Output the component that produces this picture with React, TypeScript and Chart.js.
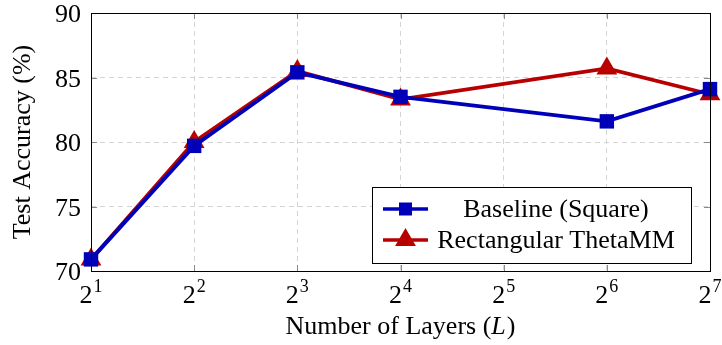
import React, { useEffect, useRef } from "react";
import { Chart, registerables } from "chart.js";
Chart.register(...registerables);

const layers = [2, 4, 8, 16, 64, 128];
const xTicks = [2, 4, 8, 16, 32, 64, 128];
const baseline = [70.9, 79.7, 85.4, 83.5, 81.6, 84.1];
const thetaMM = [70.9, 80.0, 85.5, 83.3, 85.7, 83.7];
const yTicks = [70, 75, 80, 85, 90];
const seriesNames = ["Baseline (Square)", "Rectangular ThetaMM"];
const xTitleParts = ["Number of Layers (", "L", ")"];
const yTitle = "Test Accuracy (%)";

const FONT = "'Liberation Serif', 'Times New Roman', serif";
const BLUE = "rgb(0,0,185)";
const RED = "rgb(185,0,0)";
const FS = 26;

const extrasPlugin = {
  id: "extras",
  afterDraw(chart: any) {
    const { ctx, chartArea: a } = chart;
    const xs = chart.scales.x;
    const ys = chart.scales.y;
    ctx.save();
    const ln = (x1: number, y1: number, x2: number, y2: number) => {
      ctx.beginPath();
      ctx.moveTo(x1, y1);
      ctx.lineTo(x2, y2);
      ctx.stroke();
    };
    // inward tick marks
    ctx.strokeStyle = "#8a8a8a";
    ctx.lineWidth = 1;
    xTicks.forEach((v) => {
      const px = Math.round(xs.getPixelForValue(v)) + 0.5;
      ln(px, a.top, px, a.top + 6);
      ln(px, a.bottom, px, a.bottom - 6);
    });
    yTicks.forEach((v) => {
      const py = Math.round(ys.getPixelForValue(v)) + 0.5;
      ln(a.left, py, a.left + 6, py);
      ln(a.right, py, a.right - 6, py);
    });
    // frame
    ctx.strokeStyle = "#000";
    ctx.strokeRect(Math.round(a.left) + 0.5, Math.round(a.top) + 0.5, Math.round(a.right - a.left), Math.round(a.bottom - a.top));

    const normal = `${FS}px ${FONT}`;
    const italic = `italic ${FS}px ${FONT}`;
    const small = `18px ${FONT}`;
    ctx.fillStyle = "#000";
    ctx.textBaseline = "alphabetic";

    // y tick labels
    ctx.font = normal;
    ctx.textAlign = "right";
    yTicks.forEach((v) => {
      const py = ys.getPixelForValue(v);
      ctx.fillText(String(v), a.left - 10, py + 9);
    });

    // x tick labels: 2^k
    xTicks.forEach((v) => {
      const px = xs.getPixelForValue(v);
      const exp = String(Math.round(Math.log2(v)));
      ctx.font = normal;
      const wb = ctx.measureText("2").width;
      ctx.font = small;
      const we = ctx.measureText(exp).width;
      const x0 = px - (wb + we + 1) / 2;
      ctx.textAlign = "left";
      ctx.font = normal;
      ctx.fillText("2", x0, a.bottom + 32);
      ctx.font = small;
      ctx.fillText(exp, x0 + wb + 1, a.bottom + 21);
    });

    // x title
    ctx.font = normal;
    const w0 = ctx.measureText(xTitleParts[0]).width;
    const w2 = ctx.measureText(xTitleParts[2]).width;
    ctx.font = italic;
    const w1 = ctx.measureText(xTitleParts[1]).width;
    const total = w0 + w1 + w2 + 1;
    let x = (a.left + a.right) / 2 - total / 2;
    const ty = 334;
    ctx.textAlign = "left";
    ctx.font = normal;
    ctx.fillText(xTitleParts[0], x, ty);
    x += w0;
    ctx.font = italic;
    ctx.fillText(xTitleParts[1], x, ty);
    x += w1 + 1;
    ctx.font = normal;
    ctx.fillText(xTitleParts[2], x, ty);

    // y title
    ctx.save();
    ctx.translate(23, (a.top + a.bottom) / 2);
    ctx.rotate(-Math.PI / 2);
    ctx.textAlign = "center";
    ctx.textBaseline = "middle";
    ctx.font = normal;
    ctx.fillText(yTitle, 0, 0);
    ctx.restore();

    // legend
    const lx1 = a.right - 19;
    const ly2 = a.bottom - 8;
    const lx0 = lx1 - 319;
    const ly0 = ly2 - 76;
    ctx.fillStyle = "#fff";
    ctx.fillRect(lx0, ly0, lx1 - lx0, ly2 - ly0);
    ctx.strokeStyle = "#000";
    ctx.lineWidth = 1;
    ctx.strokeRect(Math.round(lx0) + 0.5, Math.round(ly0) + 0.5, Math.round(lx1 - lx0), Math.round(ly2 - ly0));
    chart.data.datasets.forEach((ds: any, i: number) => {
      const ry = ly0 + 22 + i * 31;
      const sx0 = lx0 + 11;
      const sx1 = lx0 + 56;
      const mx = (sx0 + sx1) / 2;
      ctx.strokeStyle = ds.borderColor;
      ctx.lineWidth = 3.5;
      ln(sx0, ry, sx1, ry);
      ctx.fillStyle = ds.pointBackgroundColor;
      ctx.beginPath();
      if (ds.pointStyle === "rect") {
        const s = 6.5;
        ctx.rect(mx - s, ry - s, 2 * s, 2 * s);
      } else {
        const r = 12;
        ctx.moveTo(mx, ry - r);
        ctx.lineTo(mx + r * 0.866, ry + r * 0.5);
        ctx.lineTo(mx - r * 0.866, ry + r * 0.5);
        ctx.closePath();
      }
      ctx.fill();
      ctx.fillStyle = "#000";
      ctx.font = normal;
      ctx.textAlign = "center";
      ctx.textBaseline = "middle";
      ctx.fillText(ds.label, lx0 + 184, ry + 1);
    });
    ctx.restore();
  },
};

export default function App() {
  const ref = useRef<HTMLCanvasElement | null>(null);
  useEffect(() => {
    document.body.style.margin = "0";
    const canvas = ref.current!;
    const chart = new Chart(canvas, {
      type: "line",
      data: {
        datasets: [
          {
            label: seriesNames[0],
            data: layers.map((l, i) => ({ x: l, y: baseline[i] })),
            borderColor: BLUE,
            backgroundColor: BLUE,
            pointBackgroundColor: BLUE,
            pointBorderColor: BLUE,
            pointStyle: "rect",
            pointRadius: 10.2,
            pointBorderWidth: 0,
            borderWidth: 3.8,
            clip: false as any,
          },
          {
            label: seriesNames[1],
            data: layers.map((l, i) => ({ x: l, y: thetaMM[i] })),
            borderColor: RED,
            backgroundColor: RED,
            pointBackgroundColor: RED,
            pointBorderColor: RED,
            pointStyle: "triangle",
            pointRadius: 12,
            pointBorderWidth: 0,
            borderWidth: 3.8,
            clip: false as any,
          },
        ],
      },
      options: {
        animation: false,
        responsive: false,
        events: [],
        layout: { padding: { top: 13, right: 12, left: 0, bottom: 0 } },
        plugins: { legend: { display: false }, tooltip: { enabled: false } },
        scales: {
          x: {
            type: "logarithmic",
            min: 2,
            max: 128,
            afterBuildTicks: (s: any) => {
              s.ticks = xTicks.map((v) => ({ value: v }));
            },
            afterFit: (s: any) => {
              s.height = 74;
            },
            ticks: { display: false },
            grid: { color: "#d4d4d4", drawTicks: false, tickLength: 0 },
            border: { display: false, dash: [5, 4] },
          },
          y: {
            min: 70,
            max: 90,
            afterBuildTicks: (s: any) => {
              s.ticks = yTicks.map((v) => ({ value: v }));
            },
            afterFit: (s: any) => {
              s.width = 91;
            },
            ticks: { display: false },
            grid: { color: "#d4d4d4", drawTicks: false, tickLength: 0 },
            border: { display: false, dash: [5, 4] },
          },
        },
      },
      plugins: [extrasPlugin],
    } as any);
    return () => chart.destroy();
  }, []);
  return <canvas ref={ref} width={722} height={345} style={{ display: "block" }} />;
}
